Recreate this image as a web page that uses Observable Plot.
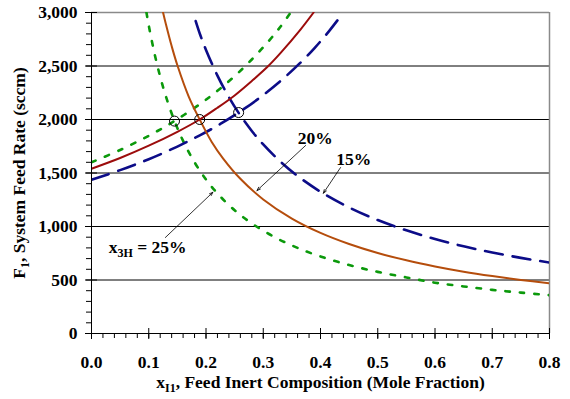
<!DOCTYPE html>
<html><head><meta charset="utf-8">
<script src="https://cdn.jsdelivr.net/npm/d3@7"></script>
<script src="https://cdn.jsdelivr.net/npm/@observablehq/plot@0.6"></script>
<style>body{margin:0;background:#fff}</style>
</head><body><div id="chart"></div>
<script>
// ---- Data ----
// Decreasing curves (x3H = 25%, 20%, 15%)
const x25Down = [0.096,0.10,0.11,0.12,0.13,0.145,0.16,0.18,0.20,0.22,0.25,0.28,0.32,0.36,0.40,0.45,0.50,0.55,0.60,0.65,0.70,0.75,0.80];
const f25Down = [3000,2880,2618,2400,2215,1986,1800,1600,1440,1309,1152,1029,900,800,720,640,576,524,475,440,408,382,358];
const x20Down = [0.125,0.13,0.14,0.15,0.17,0.189,0.21,0.23,0.26,0.30,0.35,0.40,0.45,0.50,0.55,0.60,0.65,0.70,0.75,0.80];
const f20Down = [3000,2890,2686,2507,2212,2000,1790,1635,1446,1253,1074,940,836,752,684,627,578,537,501,470];
const x15Down = [0.182,0.19,0.20,0.22,0.24,0.257,0.28,0.30,0.33,0.36,0.40,0.45,0.50,0.55,0.60,0.65,0.70,0.75,0.80];
const f15Down = [2920,2790,2650,2410,2208,2062,1893,1767,1606,1472,1325,1178,1060,964,883,815,757,707,663];
// Increasing curves
const x25Up = [0,0.05,0.10,0.145,0.19,0.22,0.25,0.28,0.31,0.33,0.348];
const f25Up = [1600,1715,1848,1986,2146,2268,2405,2561,2736,2867,3000];
const x20Up = [0,0.05,0.10,0.15,0.189,0.22,0.25,0.28,0.307,0.33,0.365,0.388];
const f20Up = [1540,1640,1755,1885,2000,2110,2225,2360,2490,2620,2840,3000];
const x15Up = [0,0.05,0.10,0.15,0.19,0.225,0.257,0.29,0.33,0.365,0.39,0.415,0.44];
const f15Up = [1436,1527,1629,1747,1854,1958,2065,2188,2359,2531,2670,2826,3000];
// Intersection markers
const circleX = [0.145, 0.189, 0.257];
const circleF = [1985, 2000, 2065];
// Annotations
const noteText = ["20%", "15%", "x_{3H} = 25%"];
const noteX = [0.391, 0.458, 0.098];
const noteF = [1827, 1626, 804];
const arrowX1 = [0.374, 0.435, 0.129];
const arrowF1 = [1757, 1551, 897];
const arrowX2 = [0.289, 0.405, 0.212];
const arrowF2 = [1336, 1311, 1320];
// Axes
const yMajor = [0,500,1000,1500,2000,2500,3000];
const yGrid = [500,1000,1500,2000,2500];
const xMajor = [0,0.1,0.2,0.3,0.4,0.5,0.6,0.7,0.8];
const yMinor = d3.range(0, 3001, 100);
const xMinor = d3.range(0, 0.8001, 0.02);
const yTitle = "F_{1}, System Feed Rate (sccm)";
const xTitle = "x_{I1}, Feed Inert Composition (Mole Fraction)";

// ---- Styles ----
const GREEN = "#0b990b", BROWN = "#b54d0c", RED = "#9c0c0c", NAVY = "#0c0c88";
const FS = 17.5;
const rows = (xs, fs) => xs.map((x, i) => ({x, f: fs[i]}));
const lineOpts = (stroke, extra) => Object.assign({x: "x", y: "f", stroke, curve: "catmull-rom", clip: true}, extra);

const chart = Plot.plot({
  width: 570, height: 399,
  marginLeft: 91, marginRight: 21, marginTop: 12, marginBottom: 66,
  x: {domain: [0, 0.8]},
  y: {domain: [0, 3000]},
  style: {fontFamily: '"Liberation Serif", "Times New Roman", serif', fontWeight: "bold", fontSize: FS + "px", color: "#000", background: "#fff"},
  marks: [
    Plot.ruleY(yGrid, {stroke: "#000", strokeWidth: 1}),
    Plot.ruleY([3000], {stroke: "#8a8a8a", strokeWidth: 1.5}),
    Plot.ruleX([0.8], {stroke: "#8a8a8a", strokeWidth: 1.5}),
    Plot.line(rows(x25Down, f25Down), lineOpts(GREEN, {strokeWidth: 2.6, strokeDasharray: "4.5,10"})),
    Plot.line(rows(x25Up, f25Up), lineOpts(GREEN, {strokeWidth: 2.6, strokeDasharray: "4.5,10"})),
    Plot.line(rows(x15Down, f15Down), lineOpts(NAVY, {strokeWidth: 2.6, strokeDasharray: "18,10"})),
    Plot.line(rows(x15Up, f15Up), lineOpts(NAVY, {strokeWidth: 2.6, strokeDasharray: "18,10"})),
    Plot.line(rows(x20Down, f20Down), lineOpts(BROWN, {strokeWidth: 2})),
    Plot.line(rows(x20Up, f20Up), lineOpts(RED, {strokeWidth: 2})),
    Plot.dot(circleX.map((x, i) => ({x, f: circleF[i]})), {x: "x", y: "f", r: 5, stroke: "#000", strokeWidth: 1, fill: "none"}),
    Plot.arrow(d3.range(arrowX1.length), {x1: i => arrowX1[i], y1: i => arrowF1[i], x2: i => arrowX2[i], y2: i => arrowF2[i], stroke: "#000", strokeWidth: 0.8, headLength: 7, headAngle: 40}),
    Plot.text(d3.range(noteText.length), {x: i => noteX[i], y: i => noteF[i], text: i => noteText[i], fontSize: FS, fontWeight: "bold"}),
    // axes
    Plot.ruleX([0], {stroke: "#000", strokeWidth: 1}),
    Plot.ruleY([0], {stroke: "#000", strokeWidth: 1}),
    Plot.axisY(yMinor, {tickSize: 5, text: null, tickFormat: null, label: null}),
    Plot.axisY(yMajor, {tickSize: 12, dx: 6, text: null, tickFormat: null, label: null}),
    Plot.axisY(yMajor, {tickSize: 0, tickPadding: 14, tickFormat: d3.format(","), label: null, fontSize: FS}),
    Plot.axisX(xMinor, {tickSize: 5, text: null, tickFormat: null, label: null}),
    Plot.axisX(xMajor, {tickSize: 11, dy: -5, text: null, tickFormat: null, label: null}),
    Plot.axisX(xMajor, {tickSize: 0, tickPadding: 22, tickFormat: d3.format(".1f"), label: null, fontSize: FS}),
    Plot.text([yTitle], {frameAnchor: "left", textAnchor: "middle", rotate: -90, dx: -72, fontSize: FS, fontWeight: "bold"}),
    Plot.text([xTitle], {frameAnchor: "bottom", textAnchor: "middle", dy: 54, fontSize: FS, fontWeight: "bold"})
  ]
});

// subscripts: turn "_{...}" into lowered tspans
chart.querySelectorAll("text").forEach(t => {
  const s = t.textContent;
  if (!s.includes("_{")) return;
  while (t.firstChild) t.removeChild(t.firstChild);
  let shifted = false;
  s.split(/(_\{[^}]*\})/).forEach(p => {
    if (!p) return;
    const ts = document.createElementNS("http://www.w3.org/2000/svg", "tspan");
    if (p.startsWith("_{")) {
      ts.textContent = p.slice(2, -1);
      ts.setAttribute("font-size", "12");
      ts.setAttribute("dy", "4");
      shifted = true;
    } else {
      ts.textContent = p;
      if (shifted) { ts.setAttribute("dy", "-4"); shifted = false; }
    }
    t.appendChild(ts);
  });
});

document.getElementById("chart").appendChild(chart);
</script>
</body></html>
